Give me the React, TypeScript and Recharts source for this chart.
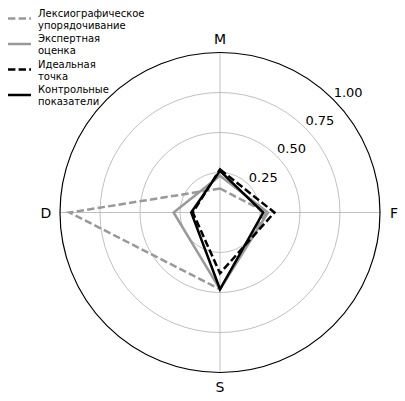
import { RadarChart, Radar, PolarGrid, PolarAngleAxis, PolarRadiusAxis, Legend } from 'recharts';

// оси и значения серий
const categories = ['M', 'F', 'S', 'D'];
const lexValues = [0.15, 0.29, 0.48, 0.94];
const expertValues = [0.23, 0.3, 0.48, 0.29];
const idealValues = [0.27, 0.34, 0.38, 0.17];
const controlValues = [0.26, 0.27, 0.48, 0.18];
const radiusTicks = [0, 0.25, 0.5, 0.75, 1];

const series = [
  { key: 'lex', label: ['Лексиографическое', 'упорядочивание'], color: '#999999', dash: '7.4 3.2' },
  { key: 'expert', label: ['Экспертная', 'оценка'], color: '#999999', dash: undefined },
  { key: 'ideal', label: ['Идеальная', 'точка'], color: '#000000', dash: '7.4 3.2' },
  { key: 'control', label: ['Контрольные', 'показатели'], color: '#000000', dash: undefined },
];

const data = categories.map((axis, i) => ({
  axis,
  lex: lexValues[i],
  expert: expertValues[i],
  ideal: idealValues[i],
  control: controlValues[i],
}));

const FONT = '"DejaVu Sans", sans-serif';

const AngleTick = ({ x, y, payload }: any) => (
  <text x={x} y={y} textAnchor="middle" dominantBaseline="central" fontSize={14} fontFamily={FONT} fill="#000">
    {payload.value}
  </text>
);

const RadiusTick = ({ x, y, payload }: any) => {
  if (!payload || payload.value === 0) return null;
  return (
    <text x={x + 15} y={y - 7} textAnchor="middle" dominantBaseline="central" fontSize={13} fontFamily={FONT} fill="#000">
      {Number(payload.value).toFixed(2)}
    </text>
  );
};

const LegendBox = () => (
  <svg width={160} height={110} style={{ display: 'block' }}>
    {series.map((s, i) => {
      const top = 13 + i * 25.5;
      return (
        <g key={s.key}>
          <line x1={8} x2={31} y1={top + 5.5} y2={top + 5.5} stroke={s.color} strokeWidth={2.5} strokeDasharray={s.dash} />
          {s.label.map((t, j) => (
            <text key={j} x={38} y={top + j * 12} dominantBaseline="central" fontSize={10} fontFamily={FONT} fill="#000">
              {t}
            </text>
          ))}
        </g>
      );
    })}
  </svg>
);

export default function App() {
  return (
    <div style={{ position: 'fixed', left: 0, top: 0, width: 405, height: 401, background: '#fff' }}>
      <RadarChart width={405} height={401} data={data} cx={220} cy={212.5} outerRadius={160} startAngle={90} endAngle={-270} margin={{ top: 0, right: 0, bottom: 0, left: 0 }}>
        <PolarGrid gridType="circle" polarRadius={[40, 80, 120]} stroke="#b0b0b0" strokeWidth={0.8} />
        <PolarGrid gridType="circle" polarRadius={[160]} radialLines={false} stroke="#000000" strokeOpacity={1} strokeWidth={1.2} />
        <PolarAngleAxis dataKey="axis" tick={AngleTick} tickSize={14} tickLine={false} axisLine={false} />
        <PolarRadiusAxis
          angle={45}
          type="number"
          domain={[0, 1]}
          ticks={radiusTicks as any}
          tickCount={5}
          allowDecimals
          axisLine={false}
          tickLine={false}
          tick={RadiusTick}
        />
        {series.map((s) => (
          <Radar
            key={s.key}
            dataKey={s.key}
            name={s.label.join(' ')}
            stroke={s.color}
            strokeWidth={2.5}
            strokeDasharray={s.dash}
            fill="none"
            fillOpacity={0}
            dot={false}
            isAnimationActive={false}
          />
        ))}
        <Legend content={<LegendBox />} wrapperStyle={{ position: 'absolute', left: 0, top: 0, width: 160, height: 110 }} />
      </RadarChart>
    </div>
  );
}
